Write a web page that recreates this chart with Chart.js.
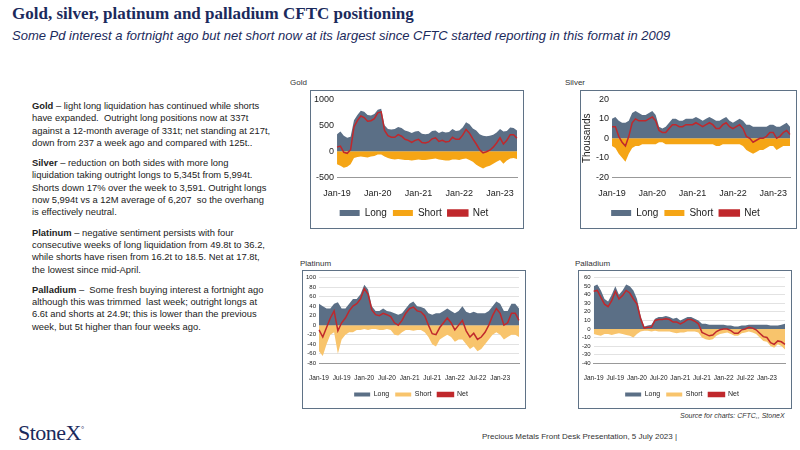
<!DOCTYPE html>
<html><head><meta charset="utf-8">
<script src="https://cdn.jsdelivr.net/npm/chart.js@4"></script>
<style>
body{margin:0;width:800px;height:450px;position:relative;background:#fff;font-family:Arial,"Liberation Sans",sans-serif;overflow:hidden}
.abs{position:absolute}
h1{position:absolute;left:12px;top:4px;margin:0;font:bold 17px "Liberation Serif",serif;color:#1b2a5c}
.sub{left:12px;top:28px;font:italic 13px Arial,sans-serif;color:#1b2a5c}
.txt{left:32px;top:100px;width:240px;font-size:9.4px;line-height:12.3px;color:#222}
.txt p{margin:0 0 8px 0}
.box{position:absolute;border:1px solid #5f7286}
.lbl{font-size:8px;color:#333}
</style></head><body>
<h1>Gold, silver, platinum and palladium CFTC positioning</h1>
<div class="abs sub">Some Pd interest a fortnight ago but net short now at its largest since CFTC started reporting in this format in 2009</div>
<div class="abs txt">
<p><b>Gold</b> – light long liquidation has continued while shorts have expanded.&nbsp; Outright long positions now at 337t against a 12-month average of 331t; net standing at 217t, down from 237 a week ago and compared with 125t..</p>
<p><b>Silver</b> – reduction on both sides with more long liquidation taking outright longs to 5,345t from 5,994t.&nbsp; Shorts down 17% over the week to 3,591. Outright longs now 5,994t vs a 12M average of 6,207&nbsp; so the overhang is effectively neutral.</p>
<p><b>Platinum</b> – negative sentiment persists with four consecutive weeks of long liquidation from 49.8t to 36.2, while shorts have risen from 16.2t to 18.5. Net at 17.8t, the lowest since mid-April.</p>
<p><b>Palladium</b> –&nbsp; Some fresh buying interest a fortnight ago although this was trimmed&nbsp; last week; outright longs at 6.6t and shorts at 24.9t; this is lower than the previous week, but 5t higher than four weeks ago.</p>
</div>
<div class="abs lbl" style="left:290px;top:78px">Gold</div>
<div class="box" style="left:310px;top:90px;width:212px;height:137px"><canvas id="c1"></canvas></div>
<div class="abs lbl" style="left:565px;top:78px">Silver</div>
<div class="box" style="left:580px;top:90px;width:215px;height:137px"><canvas id="c2"></canvas></div>
<div class="abs lbl" style="left:300px;top:259px">Platinum</div>
<div class="box" style="left:302px;top:270px;width:222px;height:137px"><canvas id="c3"></canvas></div>
<div class="abs lbl" style="left:575px;top:259px">Palladium</div>
<div class="box" style="left:578px;top:270px;width:212px;height:137px"><canvas id="c4"></canvas></div>
<div class="abs" style="left:680px;top:412px;font:italic 7px Arial;color:#333">Source for charts: CFTC,, StoneX</div>
<div class="abs" style="left:482px;top:432px;font-size:8px;color:#333">Precious Metals Front Desk Presentation, 5 July 2023 |</div>
<div class="abs" style="left:18px;top:420px;font:22px 'Liberation Serif',serif;color:#1b2a5c;letter-spacing:-0.5px">StoneX<sup style="font-size:8px">°</sup></div>
<script>
const months = [];
const mn = ["Jan","Feb","Mar","Apr","May","Jun","Jul","Aug","Sep","Oct","Nov","Dec"];
for (let y = 19; y <= 23; y++) for (let m = 0; m < 12; m++) if (!(y === 23 && m > 5)) months.push(mn[m] + "-" + y);

const goldLong = [330,380,300,260,280,600,700,780,760,700,690,720,800,820,500,430,420,430,470,450,400,380,350,380,390,340,330,340,390,400,350,380,360,370,430,390,400,460,560,520,440,400,330,300,290,300,320,360,430,380,390,460,450,400];
const goldShort = [-250,-280,-320,-300,-250,-130,-110,-100,-110,-120,-100,-90,-60,-60,-100,-130,-150,-160,-150,-160,-170,-170,-180,-170,-160,-170,-170,-160,-150,-140,-160,-170,-180,-180,-160,-160,-170,-150,-140,-170,-200,-260,-300,-330,-300,-280,-240,-200,-170,-240,-180,-140,-130,-150];
const silverLong = [10,11,9,8,8,9,13,14,13,12,12,13,14,12,6,5,6,8,10,10,9,9,10,10,10,11,10,9,10,11,10,9,9,10,11,9,8,9,10,9,7,7,6,6,6,6,6,7,7,6,6,7,8,6];
const silverShort = [-4,-5,-8,-10,-12,-8,-5,-4,-4,-3,-3,-3,-3,-3,-2,-2,-3,-3,-3,-3,-3,-3,-3,-3,-3,-3,-3,-3,-3,-3,-3,-4,-4,-3,-3,-3,-3,-3,-3,-4,-6,-7,-8,-7,-6,-6,-5,-4,-4,-6,-5,-4,-4,-4];
const platLong = [45,40,35,35,45,48,35,35,45,55,55,65,85,75,40,30,30,35,30,28,25,22,25,35,45,50,40,38,35,25,22,25,25,30,35,30,25,30,40,28,25,28,25,25,25,30,40,50,45,30,30,45,45,35];
const platShort = [-55,-65,-40,-20,-15,-60,-30,-20,-15,-15,-10,-10,-8,-10,-8,-8,-10,-10,-8,-10,-20,-22,-15,-10,-10,-12,-10,-10,-15,-25,-40,-45,-30,-25,-20,-25,-35,-30,-30,-40,-50,-45,-55,-50,-40,-30,-20,-15,-20,-30,-25,-20,-20,-25];
const pallLong = [50,52,45,35,32,40,50,40,45,52,50,45,35,15,3,4,5,12,14,14,15,14,12,13,10,12,14,14,12,10,6,6,5,5,5,5,5,4,4,3,3,4,4,5,5,5,5,5,5,4,4,4,5,6];
const pallShort = [-6,-7,-8,-6,-6,-7,-6,-5,-6,-7,-8,-10,-6,-3,-2,-2,-3,-2,-3,-3,-3,-3,-4,-5,-4,-4,-3,-3,-3,-4,-10,-12,-13,-12,-8,-6,-5,-4,-6,-8,-8,-5,-4,-3,-4,-6,-10,-14,-15,-20,-22,-18,-20,-24];

function makeChart(id, long, short, opt) {
  const net = long.map((v, i) => v + short[i]);
  new Chart(document.getElementById(id), {
    type: "line",
    data: {
      labels: months,
      datasets: [
        { label: "Long", data: long, backgroundColor: "#5b6f86", borderWidth: 0, fill: "origin", pointRadius: 0, order: 2 },
        { label: "Short", data: short, backgroundColor: opt.shortColor, borderWidth: 0, fill: "origin", pointRadius: 0, order: 3 },
        { label: "Net", data: net, borderColor: "#c0282c", backgroundColor: "#c0282c", borderWidth: 1.5, fill: false, pointRadius: 0, order: 1 }
      ]
    },
    options: {
      responsive: true, maintainAspectRatio: false, animation: false,
      layout: { padding: { top: 4, right: 6 } },
      plugins: {
        legend: { position: "bottom", labels: { sort: (a, b) => a.datasetIndex - b.datasetIndex,
                  boxWidth: opt.big ? 20 : 16, boxHeight: opt.big ? 6 : 4, font: { size: opt.big ? 10 : 7 }, color: "#222", padding: 6 } },
        tooltip: { enabled: false }
      },
      scales: {
        x: { grid: { display: false }, border: { color: "#999" },
             ticks: { autoSkip: false, maxRotation: 0, font: { size: opt.big ? 9 : 6.5 }, color: "#222",
                      callback: function(v, i) { return i % opt.step === 0 ? months[i] : ""; } } },
        y: { min: opt.min, max: opt.max,
             grid: { display: !opt.big, color: "#e2e2e2", drawTicks: false }, border: { display: false },
             title: { display: !!opt.title, text: opt.title, font: { size: 10 }, color: "#222", padding: 0 },
             ticks: { stepSize: opt.stepSize, autoSkip: false, font: { size: opt.big ? 9 : 6 }, color: "#222",
                      callback: v => String(v) } }
      }
    }
  });
}
makeChart("c1", goldLong, goldShort, { shortColor: "#f5a515", big: true, step: 12, min: -500, max: 1000, stepSize: 500 });
makeChart("c2", silverLong, silverShort, { shortColor: "#f5a515", big: true, step: 12, min: -20, max: 20, stepSize: 10, title: "Thousands" });
makeChart("c3", platLong, platShort, { shortColor: "#f8c46c", big: false, step: 6, min: -80, max: 100, stepSize: 20 });
makeChart("c4", pallLong, pallShort, { shortColor: "#f8c46c", big: false, step: 6, min: -40, max: 60, stepSize: 10 });
</script>
</body></html>
